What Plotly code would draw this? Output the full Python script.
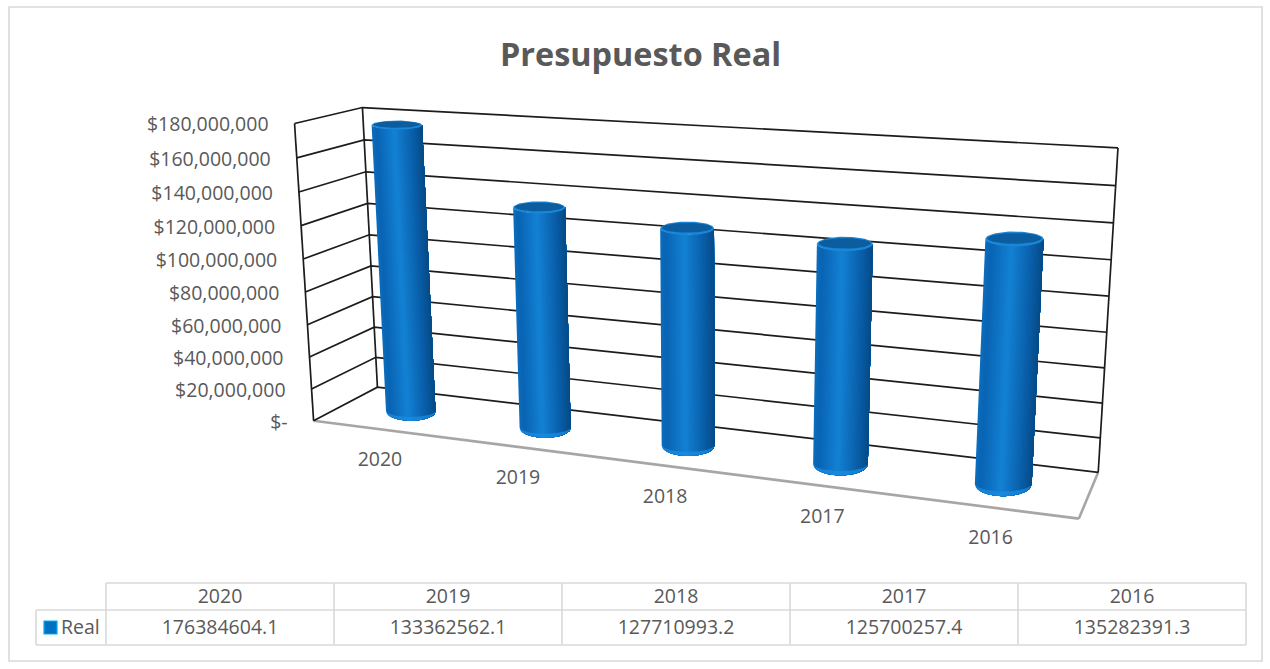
import numpy as np
import plotly.graph_objects as go

# ---- data ----
categories = ["2020", "2019", "2018", "2017", "2016"]
real_values = [176384604.1, 133362562.1, 127710993.2, 125700257.4, 135282391.3]
tick_values = [0, 20e6, 40e6, 60e6, 80e6, 100e6, 120e6, 140e6, 160e6, 180e6]
tick_labels = ["$-", "$20,000,000", "$40,000,000", "$60,000,000", "$80,000,000",
               "$100,000,000", "$120,000,000", "$140,000,000", "$160,000,000", "$180,000,000"]
title_text = "Presupuesto Real"
series_name = "Real"

# ---- oblique 3-D view: (category, depth, value) -> plot position, fitted on the box corners ----
ZMAX = tick_values[-1]
NCAT = len(categories)
box_world = [(0, 0, 0), (0, 1, 0), (0, 1, ZMAX), (0, 0, ZMAX),
             (NCAT, 0, 0), (NCAT, 1, 0), (NCAT, 1, ZMAX)]
box_view = [(313, 420), (378, 388), (362, 107), (295, 124),
            (1079, 519), (1098, 472), (1118, 148)]
rows = []
for (a, b, c), (u, v) in zip(box_world, box_view):
    c = c / ZMAX
    rows.append([a, b, c, 1, 0, 0, 0, 0, -u * a, -u * b, -u * c, -u])
    rows.append([0, 0, 0, 0, a, b, c, 1, -v * a, -v * b, -v * c, -v])
P = np.linalg.svd(np.array(rows, float))[2][-1].reshape(3, 4)


def project(a, b, c):
    a, b, c = np.asarray(a, float), np.asarray(b, float), np.asarray(c, float) / ZMAX
    w = P[2, 0] * a + P[2, 1] * b + P[2, 2] * c + P[2, 3]
    return ((P[0, 0] * a + P[0, 1] * b + P[0, 2] * c + P[0, 3]) / w,
            (P[1, 0] * a + P[1, 1] * b + P[1, 2] * c + P[1, 3]) / w)


fig = go.Figure()
INK = "#595959"
TEXT_FONT = "Open Sans"


def add_line(a, b, c, color="#1c1c1c", width=1.7):
    x, y = project(a, b, c)
    fig.add_trace(go.Scatter(x=x, y=y, mode="lines", line=dict(color=color, width=width),
                             hoverinfo="skip", showlegend=False))


def add_poly(x, y, color):
    fig.add_trace(go.Scatter(x=x, y=y, mode="lines", fill="toself", fillcolor=color,
                             line=dict(color="rgba(0,0,0,0)", width=0), hoverinfo="skip", showlegend=False))


# floor edges (grey)
add_line([0, NCAT], [0, 0], [0, 0], color="#aaa5a5", width=2.6)
add_line([NCAT, NCAT], [0, 1], [0, 0], color="#aaa5a5", width=2.6)

# walls and gridlines
for t in tick_values:
    add_line([0, 0, NCAT], [0, 1, 1], [t, t, t])
add_line([0, 0], [0, 0], [0, ZMAX])
add_line([0, 0], [1, 1], [0, ZMAX])
add_line([NCAT, NCAT], [1, 1], [0, ZMAX])

# cylinders
RX_BASE, RX_SCALE, RY = 12.0, 0.0976, 0.27
STOPS_U = [0.0, 0.1, 0.45, 0.8, 1.0]
STOPS_C = np.array([[12, 110, 190], [10, 100, 180], [20, 130, 212], [10, 95, 170], [6, 75, 135]], float)


def ramp(u):
    return "rgb(%d,%d,%d)" % tuple(np.interp(u, STOPS_U, STOPS_C[:, i]) for i in range(3))


def disc(xc, yc, level):
    """Screen centre and radii of the round section of a cylinder at a given value."""
    x0, y0 = project(xc, yc, level)
    x1, _ = project(xc + 0.5, yc, level)
    x2, _ = project(xc - 0.5, yc, level)
    _, y3 = project(xc, yc + 0.5, level)
    _, y4 = project(xc, yc - 0.5, level)
    return float(x0), float(y0), RX_BASE + RX_SCALE * float(x1 - x2), RY * abs(float(y3 - y4))


NSTRIP = 48
for i, val in enumerate(real_values):
    xc, yc = i + 0.5, 0.5
    bx, by, brx, bry = disc(xc, yc, 0)
    tx0, ty0, trx, try_ = disc(xc, yc, val)
    # painter's order, left to right: each polygon covers everything to its right
    th = np.sort(np.pi + np.arccos(np.linspace(1, -1, NSTRIP + 1)))
    for k in range(NSTRIP):
        arc = th[k:]
        x = np.concatenate([bx + brx * np.cos(arc), (tx0 + trx * np.cos(arc))[::-1]])
        y = np.concatenate([by - bry * np.sin(arc), (ty0 - try_ * np.sin(arc))[::-1]])
        add_poly(x, y, ramp((np.cos((th[k] + th[k + 1]) / 2) + 1) / 2))
    # lighter crescent along the foot of the cylinder
    arc = np.linspace(np.pi, 2 * np.pi, 41)
    x = np.concatenate([bx + brx * np.cos(arc), (bx + brx * np.cos(arc))[::-1]])
    y = np.concatenate([by - bry * np.sin(arc), (by - 0.65 * bry * np.sin(arc) - 0.5)[::-1]])
    add_poly(x, y, "rgba(26,140,225,0.75)")
    # top cap with its inner recess
    tc = np.linspace(0, 2 * np.pi, 73)
    add_poly(tx0 + trx * np.cos(tc), ty0 - try_ * np.sin(tc), "#1b86d6")
    add_poly(tx0 + 0.93 * trx * np.cos(tc), ty0 - 0.6 - 0.72 * try_ * np.sin(tc), "#0c5d9f")

# value-axis labels
tx, ty = project(np.zeros(len(tick_values)), np.zeros(len(tick_values)), tick_values)
fig.add_trace(go.Scatter(x=tx - 26, y=ty + 3, mode="text", text=tick_labels, textposition="middle left",
                         textfont=dict(family=TEXT_FONT, size=19.5, color=INK),
                         hoverinfo="skip", showlegend=False))

# category labels
cx, cy = project(np.arange(NCAT) + 0.5, np.zeros(NCAT), np.zeros(NCAT))
fig.add_trace(go.Scatter(x=cx + 0.5, y=cy + 32, mode="text", text=categories, textposition="middle center",
                         textfont=dict(family=TEXT_FONT, size=19.5, color=INK),
                         hoverinfo="skip", showlegend=False))

# data table
TX = [106, 334, 562, 790, 1018, 1246]
TY = [583, 610, 645]
LEFT = 36
tmid = [(TX[i] + TX[i + 1]) / 2 for i in range(NCAT)]
fig.add_trace(go.Scatter(x=tmid, y=[598.5] * NCAT, mode="text", text=categories,
                         textfont=dict(family=TEXT_FONT, size=19.5, color=INK),
                         hoverinfo="skip", showlegend=False))
fig.add_trace(go.Scatter(x=tmid, y=[629.5] * NCAT, mode="text", text=[str(v) for v in real_values],
                         textfont=dict(family=TEXT_FONT, size=19.5, color=INK),
                         hoverinfo="skip", showlegend=False))
fig.add_trace(go.Scatter(x=[61], y=[629.5], mode="text", text=[series_name], textposition="middle right",
                         textfont=dict(family=TEXT_FONT, size=19.5, color=INK),
                         hoverinfo="skip", showlegend=False))

GRID = dict(color="#d9d9d9", width=1.6)
shapes = [dict(type="rect", xref="x", yref="y", x0=9, y0=7, x1=1262, y1=661,
               line=dict(color="#d9d9d9", width=1.6), layer="below")]
for xv in TX:
    shapes.append(dict(type="line", xref="x", yref="y", x0=xv, x1=xv, y0=TY[0], y1=TY[2], line=GRID))
shapes.append(dict(type="line", xref="x", yref="y", x0=TX[0], x1=TX[-1], y0=TY[0], y1=TY[0], line=GRID))
shapes.append(dict(type="line", xref="x", yref="y", x0=LEFT, x1=TX[-1], y0=TY[1], y1=TY[1], line=GRID))
shapes.append(dict(type="line", xref="x", yref="y", x0=LEFT, x1=TX[-1], y0=TY[2], y1=TY[2], line=GRID))
shapes.append(dict(type="line", xref="x", yref="y", x0=LEFT, x1=LEFT, y0=TY[1], y1=TY[2], line=GRID))
shapes.append(dict(type="rect", xref="x", yref="y", x0=44, x1=57, y0=621, y1=634,
                   fillcolor="#0070c0", line=dict(color="#00b0f0", width=1.2)))

fig.update_layout(
    width=1270, height=669, autosize=False,
    margin=dict(l=0, r=0, t=0, b=0),
    paper_bgcolor="white", plot_bgcolor="white",
    showlegend=False, shapes=shapes,
    xaxis=dict(range=[0, 1270], visible=False, fixedrange=True),
    yaxis=dict(range=[669, 0], visible=False, fixedrange=True),
    annotations=[dict(text="<b>%s</b>" % title_text, x=640.5, y=53, xref="x", yref="y", showarrow=False,
                      font=dict(family=TEXT_FONT, size=32.4, color=INK))],
)
fig.write_html("out.html", post_script="document.body.style.margin='0';",
               config=dict(displayModeBar=False))
